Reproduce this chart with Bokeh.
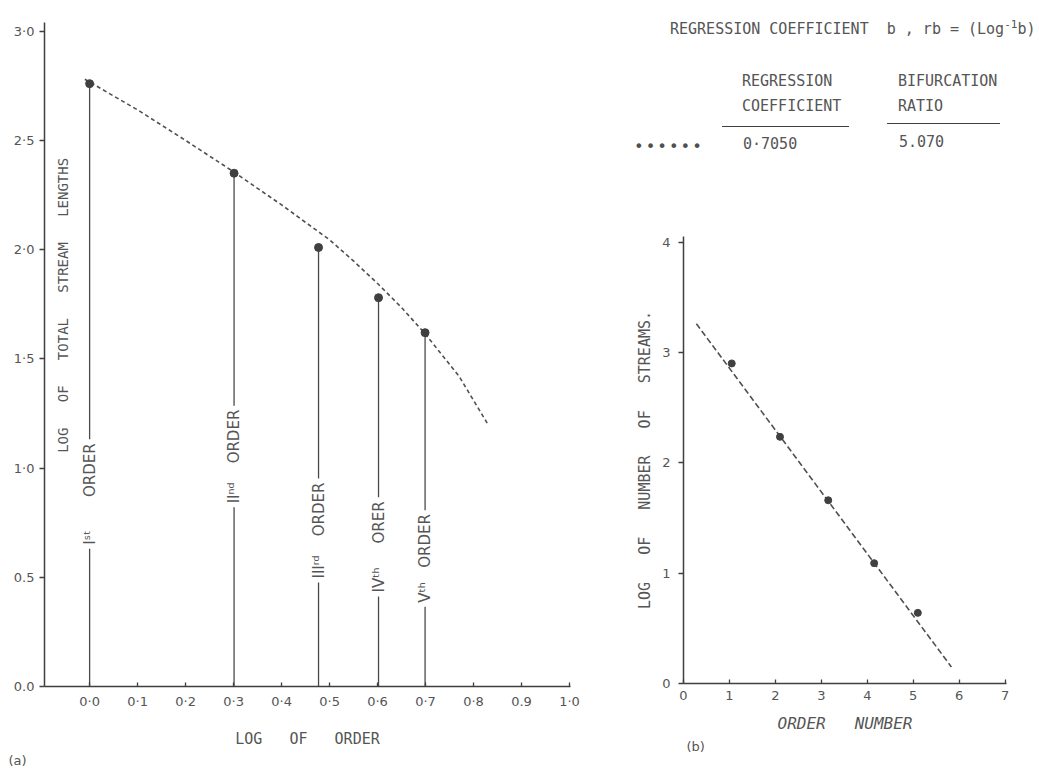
import math
from bokeh.plotting import figure
from bokeh.models import Range1d, Label, FixedTicker, Title, Div
from bokeh.layouts import row, column
from bokeh.embed import file_html
from bokeh.resources import INLINE

# ---------------- data: panel (a) ----------------
order_base = ["I", "II", "III", "IV", "V"]
order_sup = ["ˢᵗ", "ⁿᵈ", "ʳᵈ", "ᵗʰ", "ᵗʰ"]
order_word = ["ORDER", "ORDER", "ORDER", "ORER", "ORDER"]
log_order = [0.0, 0.301, 0.477, 0.602, 0.699]
log_total_length = [2.76, 2.35, 2.01, 1.78, 1.62]
curve_x = [-0.01, 0.1, 0.2, 0.301, 0.4, 0.5, 0.549, 0.6, 0.65, 0.699, 0.77, 0.83]
curve_y = [2.78, 2.64, 2.50, 2.355, 2.205, 2.045, 1.95, 1.845, 1.735, 1.615, 1.42, 1.20]
a_xticks = [0.0, 0.1, 0.2, 0.3, 0.4, 0.5, 0.6, 0.7, 0.8, 0.9, 1.0]
a_xtick_labels = ["0·0", "0·1", "0·2", "0·3", "0·4", "0·5", "0·6", "0·7", "0·8", "0.9", "1·0"]
a_yticks = [0.0, 0.5, 1.0, 1.5, 2.0, 2.5, 3.0]
a_ytick_labels = ["0.0", "0.5", "1·0", "1·5", "2·0", "2·5", "3·0"]

# ---------------- data: panel (b) ----------------
order_number = [1.05, 2.1, 3.15, 4.15, 5.1]
log_num_streams = [2.90, 2.235, 1.66, 1.09, 0.64]
fit_x = [0.28, 5.83]
fit_y = [3.26, 0.15]
b_xticks = [0, 1, 2, 3, 4, 5, 6, 7]
b_yticks = [0, 1, 2, 3, 4]

# ---------------- data: table ----------------
table_title = ["REGRESSION COEFFICIENT&nbsp;&nbsp;b , rb = (Log", "-1", "b)"]
table_headers = [["REGRESSION", "COEFFICIENT"], ["BIFURCATION", "RATIO"]]
table_values = ["0·7050", "5.070"]

INK = "#3f3f3f"
TXT = "#555555"
MONO = "DejaVu Sans Mono"
SANS = "DejaVu Sans"
NB = "\u00a0"


def spaced(s, n=3):
    return s.replace(" ", NB * n)


def style_axes(p):
    for ax in (p.xaxis[0], p.yaxis[0]):
        ax.axis_line_color = INK
        ax.axis_line_width = 1.5
        ax.major_tick_line_color = INK
        ax.major_tick_line_width = 1.3
        ax.minor_tick_line_color = None
        ax.major_label_text_color = TXT
        ax.major_label_text_font = SANS
        ax.major_label_text_font_size = "13px"
        ax.axis_label_text_color = TXT
        ax.axis_label_text_font = MONO
        ax.axis_label_text_font_style = "normal"
    p.xaxis.major_tick_in = 4
    p.xaxis.major_tick_out = 0
    p.yaxis.major_tick_in = 0
    p.yaxis.major_tick_out = 5
    p.grid.visible = False


# ---------------- panel (a) ----------------
pa = figure(width=600, height=768, x_range=Range1d(-0.094, 1.002), y_range=Range1d(0, 3.04),
            output_backend="svg", toolbar_location=None,
            min_border_left=44, min_border_right=30, min_border_top=22, min_border_bottom=82,
            outline_line_color=None)
style_axes(pa)
pa.xaxis.ticker = FixedTicker(ticks=a_xticks)
pa.xaxis.major_label_overrides = dict(zip(a_xticks, a_xtick_labels))
pa.xaxis.major_label_standoff = 7
pa.xaxis.axis_label = spaced("LOG OF ORDER")
pa.xaxis.axis_label_text_font_size = "15px"
pa.xaxis.axis_label_standoff = 18
pa.yaxis.ticker = FixedTicker(ticks=a_yticks)
pa.yaxis.major_label_overrides = dict(zip(a_yticks, a_ytick_labels))
pa.yaxis.major_label_standoff = 5

pa.line(curve_x, curve_y, line_color="#505050", line_width=1.6, line_dash="4 3")
pa.segment(x0=log_order, y0=[0] * len(log_order), x1=log_order, y1=log_total_length,
           line_color="#4a4a4a", line_width=1.3)
pa.scatter(log_order, log_total_length, size=8, color="#404040")

# label layout along each stem: centre (in y units) and gap between suffix and word
stem_label_y = [0.881, 1.053, 0.714, 0.639, 0.586]
stem_gap = [7, 4, 4, 5, 3]
for xv, yv, g, b, s, w in zip(log_order, stem_label_y, stem_gap, order_base, order_sup, order_word):
    pa.add_layout(Label(x=xv, y=yv, text=b + s + NB * g + w, angle=math.pi / 2,
                        text_align="center", text_baseline="middle", text_font=SANS,
                        text_font_size="15px", text_color=TXT,
                        background_fill_color="white", padding=4))

pa.add_layout(Label(x=-0.055, y=1.745, text=spaced("LOG OF TOTAL STREAM LENGTHS"),
                    angle=math.pi / 2, text_align="center", text_baseline="middle",
                    text_font=MONO, text_font_size="14px", text_color=TXT))
pa.add_layout(Title(text="(a)", align="left", offset=-36, standoff=0, text_font=SANS,
                    text_font_size="13px", text_font_style="normal", text_color=TXT), "below")

# ---------------- header (table) as HTML ----------------
def box(left, top, html, size=15, extra=""):
    return (f'<div style="position:absolute;left:{left}px;top:{top}px;font-size:{size}px;'
            f'line-height:{size}px;white-space:nowrap;{extra}">{html}</div>')


parts = []
parts.append(box(70, 22, f'{table_title[0]}<sup style="font-size:11px;line-height:0">'
                         f'{table_title[1]}</sup>{table_title[2]}'))
col_left = [142, 298]
rule_geom = [(122, 126, 127), (287, 123, 113)]
val_top = [137, 135]
for i in range(2):
    parts.append(box(col_left[i], 74, table_headers[i][0]))
    parts.append(box(col_left[i], 99, table_headers[i][1]))
    rl, rt, rw = rule_geom[i]
    parts.append(f'<div style="position:absolute;left:{rl}px;top:{rt}px;width:{rw}px;'
                 f'height:0;border-top:1.4px solid {INK}"></div>')
    parts.append(box(col_left[i] + 1, val_top[i], table_values[i]))
parts.append(box(34, 139, "••••••", size=16, extra="letter-spacing:2px;color:#505050"))

header = Div(text=(f'<div style="position:relative;width:439px;height:200px;'
                   f'font-family:\'{MONO}\';color:{TXT}">' + "".join(parts) + '</div>'),
             width=439, height=200, margin=0)

# ---------------- panel (b) ----------------
pb = figure(width=439, height=568, x_range=Range1d(0, 7.03), y_range=Range1d(0, 4.05),
            output_backend="svg", toolbar_location=None,
            min_border_left=83, min_border_right=33, min_border_top=36, min_border_bottom=85,
            outline_line_color=None)
style_axes(pb)
pb.xaxis.ticker = FixedTicker(ticks=b_xticks)
pb.yaxis.ticker = FixedTicker(ticks=b_yticks)
pb.xaxis.major_label_standoff = 7
pb.yaxis.major_label_standoff = 8
pb.xaxis.axis_label = spaced("ORDER NUMBER")
pb.xaxis.axis_label_text_font_style = "italic"
pb.xaxis.axis_label_text_font_size = "16px"
pb.xaxis.axis_label_standoff = 11
pb.yaxis.axis_label = spaced("LOG OF NUMBER OF STREAMS.")
pb.yaxis.axis_label_text_font_size = "15px"
pb.yaxis.axis_label_standoff = 5

pb.line(fit_x, fit_y, line_color="#505050", line_width=1.6, line_dash="6 3")
pb.scatter(order_number, log_num_streams, size=7, color="#404040")
pb.add_layout(Title(text="(b)", align="left", offset=3, standoff=2, text_font=SANS,
                    text_font_size="13px", text_font_style="normal", text_color=TXT), "below")

layout = row(pa, column(header, pb))
open("out.html", "w").write(file_html(layout, INLINE))
